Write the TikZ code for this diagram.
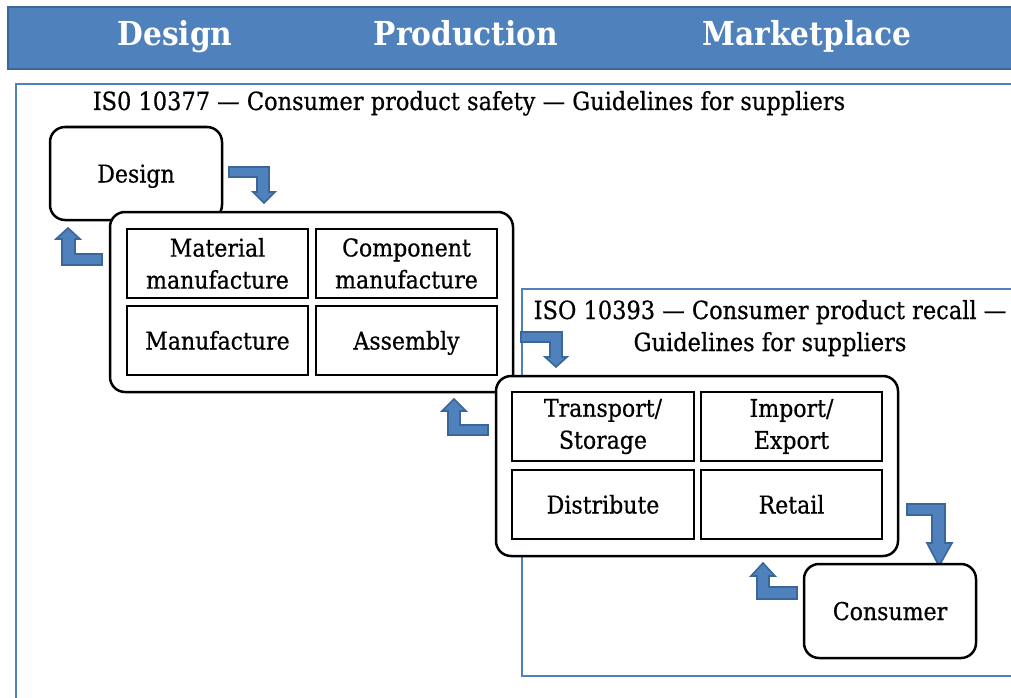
\documentclass[tikz,border=0pt]{standalone}
\usepackage{fontspec}
\setmainfont{DejaVu Serif}[FakeStretch=0.9, UprightFeatures={FakeBold=0.6}]
\definecolor{isoblue}{HTML}{4F81BD}
\definecolor{hdredge}{HTML}{3C6899}
\definecolor{isoedge}{HTML}{3A669A}
\begin{document}
\begin{tikzpicture}[x=1pt,y=-1pt,
  hdrtext/.style={text=white, font=\fontsize{33}{38}\selectfont\bfseries, inner sep=0pt, anchor=base},
  txt/.style={font=\fontsize{25}{31}\selectfont, inner sep=0pt, anchor=base},
  rbox/.style={draw=black, line width=2.5pt, rounded corners=15pt, fill=white, inner sep=0pt, outer sep=0pt, anchor=north west, align=center, font=\fontsize{24.5}{32}\selectfont},
  cell/.style={draw=black, line width=2.5pt, fill=white, inner sep=0pt, outer sep=0pt, anchor=north west, align=center, font=\fontsize{24.5}{32}\selectfont, minimum width=181pt, minimum height=69pt},
  oneline/.style={text height=20pt, text depth=2pt},
  bluebox/.style={draw=isoblue, line width=2pt, inner sep=0pt, outer sep=0pt, anchor=north west},
  barrow/.style={fill=isoblue, draw=isoedge, line width=1.6pt, line join=miter}]
\useasboundingbox (0,0) rectangle (1011,698);
\clip (0,0) rectangle (1011,698);
\fill[white] (0,0) rectangle (1011,698);

% outer standard frame
\node[bluebox, minimum width=1020pt, minimum height=650pt] (iso1) at (16,84) {};
% header band
\node[draw=hdredge, fill=isoblue, line width=2pt, inner sep=0pt, anchor=north west, minimum width=1020pt, minimum height=62pt] (hdr) at (7,6) {};
\node[hdrtext] (hdA) at (175,46) {Design};
\node[hdrtext] (hdB) at (466,46) {Production};
\node[hdrtext] (hdC) at (807,46) {Marketplace};

\node[txt] (title1) at (469,110) {IS0 10377 — Consumer product safety — Guidelines for suppliers};

% second standard frame
\node[bluebox, minimum width=520pt, minimum height=387pt] (iso2) at (522,289) {};
\node[txt] (title2a) at (770,319) {ISO 10393 — Consumer product recall —};
\node[txt] (title2b) at (770,351) {Guidelines for suppliers};

% design
\node[rbox, oneline, minimum width=172pt, minimum height=93pt] (design) at (50,127) {Design};

% production
\node[rbox, minimum width=403pt, minimum height=180pt] (prod) at (110,212) {};
\node[cell] (mat) at (127,229) {Material\\manufacture};
\node[cell] (comp) at (316,229) {Component\\manufacture};
\node[cell, oneline] (manu) at (127,306) {Manufacture};
\node[cell, oneline] (asm) at (316,306) {Assembly};

% arrows design <-> production
\draw[barrow] (229,167) -- (269,167) -- (269,192) -- (275,192) -- (264,203) -- (253,192) -- (257,192) -- (257,177) -- (229,177) -- cycle;
\draw[barrow] (102,254) -- (102,265) -- (62,265) -- (62,239) -- (56,239) -- (68,228) -- (80,239) -- (75,239) -- (75,254) -- cycle;

% arrows production <-> marketplace
\draw[barrow] (521,332) -- (562,332) -- (562,357) -- (567,357) -- (556,367) -- (545,357) -- (550,357) -- (550,342) -- (521,342) -- cycle;
\draw[barrow] (488,425) -- (488,435) -- (448,435) -- (448,411) -- (442,411) -- (454,399) -- (466,411) -- (460,411) -- (460,425) -- cycle;

% marketplace
\node[rbox, minimum width=402pt, minimum height=180pt] (market) at (496,376) {};
\node[cell, minimum width=182pt] (trans) at (512,392) {Transport/\\Storage};
\node[cell] (imp) at (701,392) {Import/\\Export};
\node[cell, oneline, minimum width=182pt] (dist) at (512,470) {Distribute};
\node[cell, oneline] (ret) at (701,470) {Retail};

% arrows marketplace <-> consumer
\draw[barrow] (907,504) -- (945,504) -- (945,543) -- (952,543) -- (939,566) -- (927,543) -- (932,543) -- (932,515) -- (907,515) -- cycle;
\draw[barrow] (797,587) -- (797,599) -- (757,599) -- (757,576) -- (751,576) -- (763,563) -- (775,576) -- (769,576) -- (769,587) -- cycle;

% consumer
\node[rbox, oneline, minimum width=172pt, minimum height=94pt] (cons) at (804,564) {Consumer};
\end{tikzpicture}
\end{document}
